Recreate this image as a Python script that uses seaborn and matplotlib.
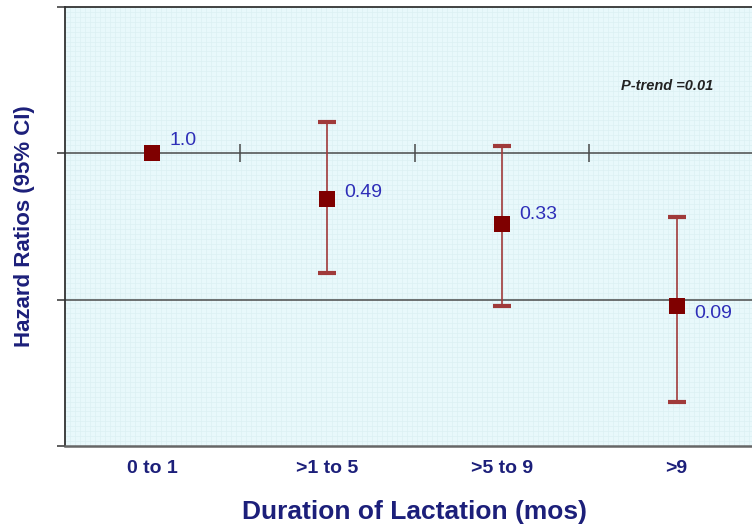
import numpy as np
import pandas as pd
import matplotlib
matplotlib.use("Agg")
import matplotlib.pyplot as plt
import seaborn as sns

# values
categories = ["0 to 1", ">1 to 5", ">5 to 9", ">9"]
hazard_ratio = [1.0, 0.49, 0.33, 0.09]
ci_low = [1.0, 0.153, 0.091, 0.020]
ci_high = [1.0, 1.63, 1.13, 0.37]
value_labels = ["1.0", "0.49", "0.33", "0.09"]
p_trend = "P-trend =0.01"

navy = "#1c1f7a"
dark_red = "#7f0000"
bar_red = "#a03a3a"
panel_bg = "#e8f8fb"

sns.set_style("white")
plt.rcParams["font.family"] = ["Liberation Sans", "DejaVu Sans"]

df = pd.DataFrame({"group": categories, "hr": hazard_ratio,
                   "lo": ci_low, "hi": ci_high, "label": value_labels})
df["x"] = np.arange(len(df))

fig = plt.figure(figsize=(7.52, 5.29), dpi=100)
ax = fig.add_axes([65 / 752, 83 / 529, 699 / 752, 439 / 529])
ax.set_facecolor(panel_bg)

ax.set_yscale("log")
ax.set_ylim(0.01, 10)
ax.set_xlim(-0.5, len(df) - 0.5)
# faint background grid like the original panel
for gx in np.linspace(-0.5, len(df) - 0.5, 140):
    ax.axvline(gx, color="#dcf0f3", lw=0.5, zorder=0)
for gy in np.logspace(-2, 1, 90):
    ax.axhline(gy, color="#dcf0f3", lw=0.5, zorder=0)

# reference lines at HR 1 and 0.1
for ref in [1.0, 0.1]:
    ax.axhline(ref, color="#4a4a4a", lw=1.1, zorder=1)
# small separators between groups on the HR=1 line
seps = df["x"].values[:-1] + 0.5
ax.plot(seps, [1.0] * len(seps), ls="none", marker="|", ms=13, mew=1.1,
        color="#4a4a4a", zorder=1)

# confidence intervals (skip the reference group)
ci = df[df["lo"] < df["hi"]]
ax.errorbar(ci["x"], ci["hr"],
            yerr=[ci["hr"] - ci["lo"], ci["hi"] - ci["hr"]],
            fmt="none", ecolor=bar_red, elinewidth=1.2, capsize=6.5,
            capthick=3, zorder=2)

sns.scatterplot(data=df, x="x", y="hr", marker="s", s=140, color=dark_red,
                edgecolor=dark_red, linewidth=0, zorder=3, ax=ax)

# label nudges (multiplicative, log axis) to sit where the original puts them
nudge = [1.22, 1.1, 1.15, 0.9]
for i, row in df.iterrows():
    ax.text(row["x"] + 0.1, row["hr"] * nudge[i], row["label"], color="#2e2eb8",
            fontsize=14, ha="left", va="center", zorder=4)

ax.text(0.861, 0.82, p_trend, transform=ax.transAxes, fontsize=10.5,
        fontstyle="italic", fontweight="bold", color="#222222",
        ha="center", va="center")

ax.set_xticks(df["x"])
ax.set_xticklabels(df["group"], fontsize=14, fontweight="bold", color=navy)
ax.tick_params(axis="x", length=0, pad=10)
ax.set_yticks([0.01, 0.1, 1, 10])
ax.yaxis.set_minor_locator(matplotlib.ticker.NullLocator())
ax.set_yticklabels([])
ax.tick_params(axis="y", left=True, direction="out", length=6, width=1.1,
               color="#333333")

ax.set_xlabel("Duration of Lactation (mos)", fontsize=19, fontweight="bold",
              color=navy)
ax.xaxis.set_label_coords(0.5, -0.123)
ax.set_ylabel("Hazard Ratios (95% CI)", fontsize=16, fontweight="bold",
              color=navy)
ax.yaxis.set_label_coords(-0.043, 0.5)

for side in ["left", "top"]:
    ax.spines[side].set_color("#333333")
    ax.spines[side].set_linewidth(1.3)
ax.spines["bottom"].set_color("#666666")
ax.spines["bottom"].set_linewidth(1.8)
ax.spines["right"].set_visible(False)

fig.savefig("out.png", dpi=100, facecolor="white")
